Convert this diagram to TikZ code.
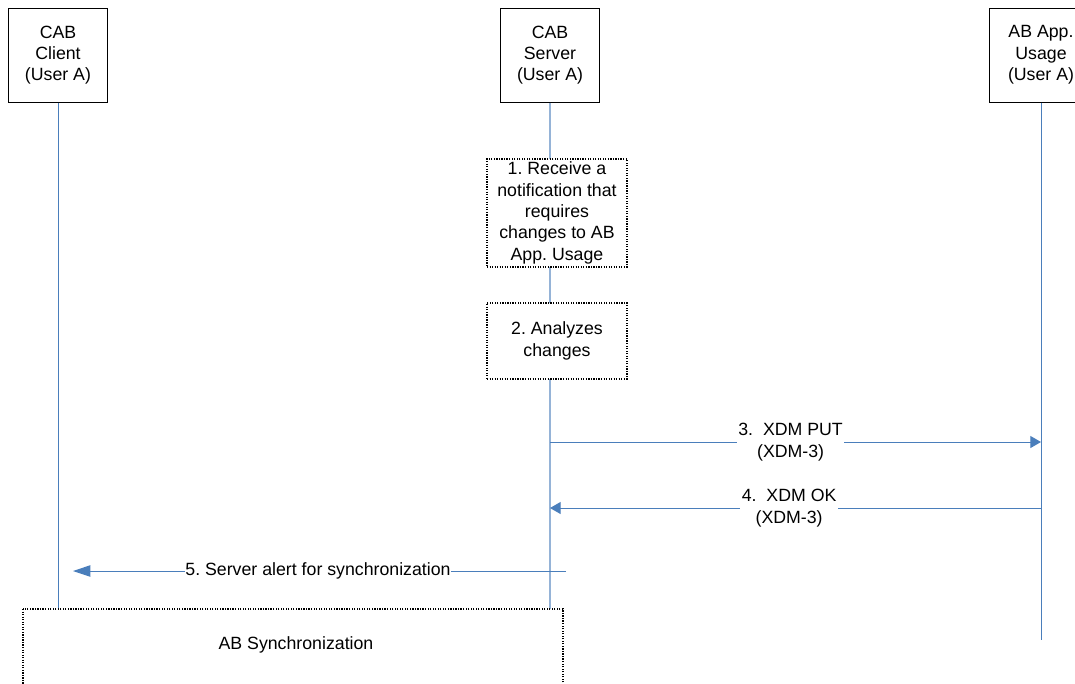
\documentclass[tikz,border=0pt]{standalone}
\usepackage{fontspec}
\setmainfont{Liberation Sans}
\usetikzlibrary{arrows.meta}
\definecolor{msgblue}{HTML}{4A7EBB}
\definecolor{srvblue}{HTML}{95B3D7}
\frenchspacing

\begin{document}
\begin{tikzpicture}[x=0.75pt, y=-0.75pt,
        every node/.style={font=\fontsize{13.3}{16}\selectfont, align=center},
        actor/.style={draw, line width=0.75pt, fill=white, minimum width=74.25pt, minimum height=70.5pt, inner sep=1pt},
        stepbox/.style={draw, densely dotted, line width=0.9pt, fill=white, minimum width=105pt, inner sep=1pt},
        life/.style={draw=msgblue, line width=0.75pt},
        msg/.style={draw=msgblue, line width=0.75pt, -{Triangle[length=8pt, width=9pt]}},
        tag/.style={fill=white, inner sep=1pt}]
    \useasboundingbox (0,0) rectangle (1075,683);
    % actors
    \node[actor] (client) at (58,55) {CAB\\Client\\(User A)};
    \node[actor] (server) at (550,55) {CAB\\Server\\(User A)};
    \node[actor, minimum width=78pt] (usage) at (1041,55) {AB App.\\Usage\\(User A)};
    % lifelines
    \coordinate (clientend) at (58,609);
    \coordinate (serverend) at (550,609);
    \coordinate (usageend) at (1041,640);
    \draw[life] (client.south) -- (clientend);
    \draw[life, draw=srvblue, line width=1.4pt] (server.south) -- (serverend);
    \draw[life] (usage.south) -- (usageend);
    % steps in the server
    \node[stepbox, minimum height=81pt] (receive) at (557,213) {1. Receive a\\notification that\\requires\\changes to AB\\App. Usage};
    \node[stepbox, minimum height=57pt] (analyze) at (557,341) {2. Analyzes\\changes};
    % messages
    \coordinate (put-s) at (550,442);
    \coordinate (put-u) at (1041,442);
    \draw[msg] (put-s) -- node[tag, pos=0.49] {3.\ \ XDM PUT\\(XDM-3)} (put-u);
    \coordinate (ok-u) at (1041,508);
    \coordinate (ok-s) at (550,508);
    \draw[msg] (ok-u) -- node[tag, pos=0.513] {4.\ \ XDM OK\\(XDM-3)} (ok-s);
    \coordinate (alert-s) at (566,571);
    \coordinate (alert-c) at (73,571);
    \draw[msg, -{Triangle[length=13pt, width=8.5pt]}] (alert-s) -- node[tag, inner sep=0pt, pos=0.503] {5. Server alert for synchronization} (alert-c);
    % synchronization
    \draw[densely dotted, line width=0.9pt] (23,609) rectangle (563,700);
    \node (sync) at (296,645) {AB Synchronization};
\end{tikzpicture}
\end{document}
